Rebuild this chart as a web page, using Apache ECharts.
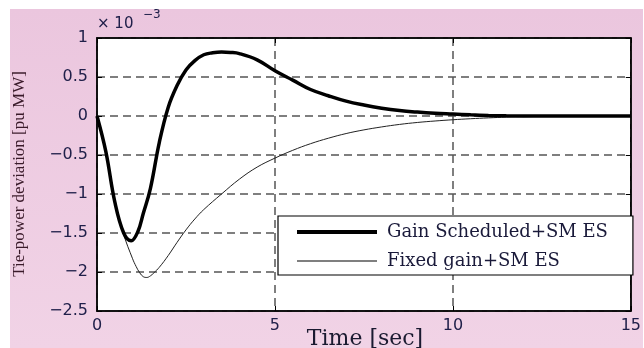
<!DOCTYPE html>
<html>
<head>
<meta charset="utf-8">
<script src="https://cdn.jsdelivr.net/npm/echarts@6/dist/echarts.min.js"></script>
<style>
html,body{margin:0;padding:0;background:#fff;}
#c{width:644px;height:348px;}
</style>
</head>
<body>
<div id="c"></div>
<script>
// Values in units of 1e-3 pu MW
const seriesNames = ['Gain Scheduled+SM ES', 'Fixed gain+SM ES'];
const timeGain = [0, 0.25, 0.5, 0.75, 0.96, 1.15, 1.3, 1.5, 1.75, 2.0, 2.25, 2.5, 2.75, 3.0, 3.25, 3.5, 3.75, 4.0, 4.5, 5.0, 5.5, 6.0, 6.5, 7.0, 7.5, 8.0, 8.5, 9.0, 9.5, 10.0, 10.5, 11.0, 11.5, 12, 13, 14, 15];
const valGain  = [0, -0.46, -1.1, -1.5, -1.6, -1.48, -1.25, -0.93, -0.34, 0.11, 0.39, 0.59, 0.71, 0.785, 0.81, 0.82, 0.815, 0.8, 0.72, 0.58, 0.46, 0.34, 0.26, 0.19, 0.14, 0.1, 0.07, 0.05, 0.035, 0.025, 0.015, 0.007, 0.002, 0, 0, 0, 0];
const timeFixed = [0, 0.25, 0.5, 0.75, 1.0, 1.1, 1.2, 1.3, 1.4, 1.5, 1.6, 1.75, 2.0, 2.25, 2.5, 2.75, 3.0, 3.5, 4.0, 4.5, 5.0, 5.5, 6.0, 6.5, 7.0, 7.5, 8.0, 8.5, 9.0, 9.5, 10.0, 10.5, 11.0, 11.5, 12.0, 12.5, 13.0, 13.5, 14, 15];
const valFixed  = [0, -0.46, -1.1, -1.52, -1.83, -1.93, -2.01, -2.06, -2.07, -2.05, -2.01, -1.94, -1.79, -1.62, -1.46, -1.32, -1.2, -1.0, -0.81, -0.655, -0.54, -0.44, -0.355, -0.285, -0.225, -0.178, -0.14, -0.108, -0.083, -0.064, -0.048, -0.035, -0.024, -0.015, -0.009, -0.005, -0.002, 0, 0, 0];
const xTicks = [0, 5, 10, 15];
const yTicks = [-2.5, -2, -1.5, -1, -0.5, 0, 0.5, 1];

const fmt = v => (v < 0 ? '\u2212' : '') + Math.abs(v);
const pair = (t, v) => t.map((x, i) => [x, v[i]]);

const chart = echarts.init(document.getElementById('c'), null, {renderer: 'canvas'});
const tickColor = '#20204a';
const axisCommon = {
  axisLine: {show: true, onZero: false, lineStyle: {color: '#000', width: 1.5}},
  axisTick: {show: true, inside: true, length: 5, lineStyle: {color: '#000', width: 1}},
};
chart.setOption({
  animation: false,
  backgroundColor: '#fff',
  graphic: [
    {type: 'rect', z: -10, silent: true, shape: {x: 10, y: 9, width: 633, height: 339},
     style: {fill: new echarts.graphic.LinearGradient(0, 0, 0, 1, [{offset: 0, color: '#ebc6de'}, {offset: 1, color: '#f1d3e6'}])}},
    {type: 'text', left: 97, top: 17, z: 10, style: {text: '\u00d7 10', font: '15px "DejaVu Sans"', fill: tickColor}},
    {type: 'text', left: 143, top: 9, z: 10, style: {text: '\u22123', font: '12px "DejaVu Sans"', fill: tickColor}},
    {type: 'text', x: 20, y: 174, rotation: Math.PI / 2, z: 10,
     style: {text: 'Tie-power deviation [pu MW]', font: '17px "Liberation Serif"', fill: '#3a1a2a', align: 'center', verticalAlign: 'middle'}},
    {type: 'text', x: 365, y: 339, z: 10,
     style: {text: 'Time [sec]', font: '22px "DejaVu Serif"', fill: '#1a1a30', align: 'center', verticalAlign: 'middle'}}
  ],
  grid: {left: 97, right: 6, top: 38, bottom: 37, show: true, backgroundColor: '#fff', borderColor: '#000', borderWidth: 1.5},
  legend: {
    orient: 'vertical', left: 278, top: 216,
    backgroundColor: '#fff', borderColor: '#000', borderWidth: 1.2,
    padding: [7, 25, 5, 17], itemGap: 11, itemWidth: 80, itemHeight: 14,
    itemStyle: {opacity: 0},
    textStyle: {fontFamily: 'DejaVu Serif', fontSize: 18, lineHeight: 16, color: '#1a1a3a', padding: [0, 0, 0, 5]},
    data: [
      {name: seriesNames[0], lineStyle: {width: 4, color: '#000'}},
      {name: seriesNames[1], lineStyle: {width: 1.2, color: '#000'}}
    ]
  },
  xAxis: [
    Object.assign({type: 'value', min: 0, max: 15, interval: 5, position: 'bottom',
      axisLabel: {show: true, color: tickColor, fontFamily: 'DejaVu Sans', fontSize: 16, margin: 7,
        formatter: v => xTicks.includes(v) ? fmt(v) : ''},
      splitLine: {show: true, lineStyle: {color: '#555', width: 1.5, type: [8, 5]}}}, axisCommon),
    Object.assign({type: 'value', min: 0, max: 15, interval: 5, position: 'top',
      axisLabel: {show: false}, splitLine: {show: false}}, axisCommon)
  ],
  yAxis: [
    Object.assign({type: 'value', min: -2.5, max: 1, interval: 0.5, position: 'left',
      axisLabel: {show: true, color: tickColor, fontFamily: 'DejaVu Sans', fontSize: 16, margin: 9,
        formatter: v => yTicks.includes(v) ? fmt(v) : ''},
      splitLine: {show: true, lineStyle: {color: '#555', width: 1.5, type: [8, 5]}}}, axisCommon),
    Object.assign({type: 'value', min: -2.5, max: 1, interval: 0.5, position: 'right',
      axisLabel: {show: false}, splitLine: {show: false}}, axisCommon)
  ],
  series: [
    {name: seriesNames[1], type: 'line', data: pair(timeFixed, valFixed), showSymbol: false, symbol: 'none',
     smooth: 0.4, z: 3, lineStyle: {color: '#222', width: 1}, itemStyle: {color: '#222'}},
    {name: seriesNames[0], type: 'line', data: pair(timeGain, valGain), showSymbol: false, symbol: 'none',
     smooth: 0.4, z: 4, lineStyle: {color: '#000', width: 3.5}, itemStyle: {color: '#000'}}
  ]
});
</script>
</body>
</html>
